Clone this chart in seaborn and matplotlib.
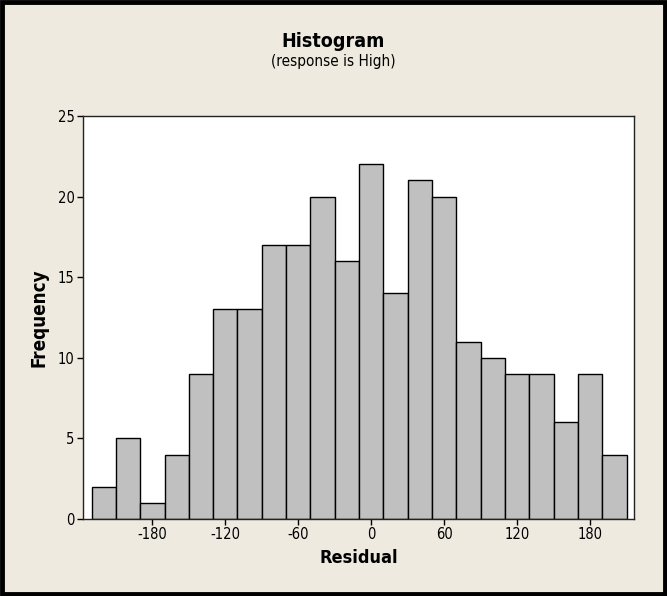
import matplotlib.pyplot as plt
import matplotlib.patches as mpatches
import seaborn as sns

# residual bin centres (width 20) and their frequencies
bin_centers = [-220, -200, -180, -160, -140, -120, -100, -80, -60, -40, -20,
               0, 20, 40, 60, 80, 100, 120, 140, 160, 180, 200]
frequency = [2, 5, 1, 4, 9, 13, 13, 17, 17, 20, 16,
             22, 14, 21, 20, 11, 10, 9, 9, 6, 9, 4]
x_ticks = [-180, -120, -60, 0, 60, 120, 180]
y_ticks = [0, 5, 10, 15, 20, 25]

sns.set_style("ticks")
plt.rcParams['font.family'] = ['DejaVu Sans']
plt.rcParams['font.stretch'] = 'condensed'
plt.rcParams['text.color'] = 'black'
plt.rcParams['axes.labelcolor'] = 'black'
plt.rcParams['xtick.color'] = 'black'
plt.rcParams['ytick.color'] = 'black'

bg = "#EEEAE0"
fig = plt.figure(figsize=(6.67, 5.96), dpi=100, facecolor=bg)
ax = fig.add_axes([0.1245, 0.1292, 0.826, 0.6762])
ax.set_facecolor("white")

sns.histplot(x=bin_centers, weights=frequency, binwidth=20, binrange=(-230, 210),
             color="#C0C0C0", alpha=1, edgecolor="black", linewidth=1.0, ax=ax)

ax.set_xlim(-237, 216)
ax.set_ylim(0, 25)
ax.set_xticks(x_ticks)
ax.set_xticklabels([str(t) for t in x_ticks])
ax.set_yticks(y_ticks)
ax.tick_params(axis="both", labelsize=10.5, length=4, width=1, pad=2)
for s in ax.spines.values():
    s.set_color("#222222")
    s.set_linewidth(1)

ax.set_xlabel("Residual", fontsize=13, fontweight="bold", labelpad=5)
ax.set_ylabel("Frequency", fontsize=13.5, fontweight="bold", labelpad=7)

fig.text(0.5, 0.93, "Histogram", ha="center", va="center",
         fontsize=14, fontweight="bold")
fig.text(0.5, 0.896, "(response is High)", ha="center", va="center", fontsize=11)

# black outer frame
fig.patches.append(mpatches.Rectangle((0.003, 0.003), 0.994, 0.994,
                                      transform=fig.transFigure, fill=False,
                                      edgecolor="black", linewidth=3.5))

fig.savefig("out.png", dpi=100, facecolor=bg)
